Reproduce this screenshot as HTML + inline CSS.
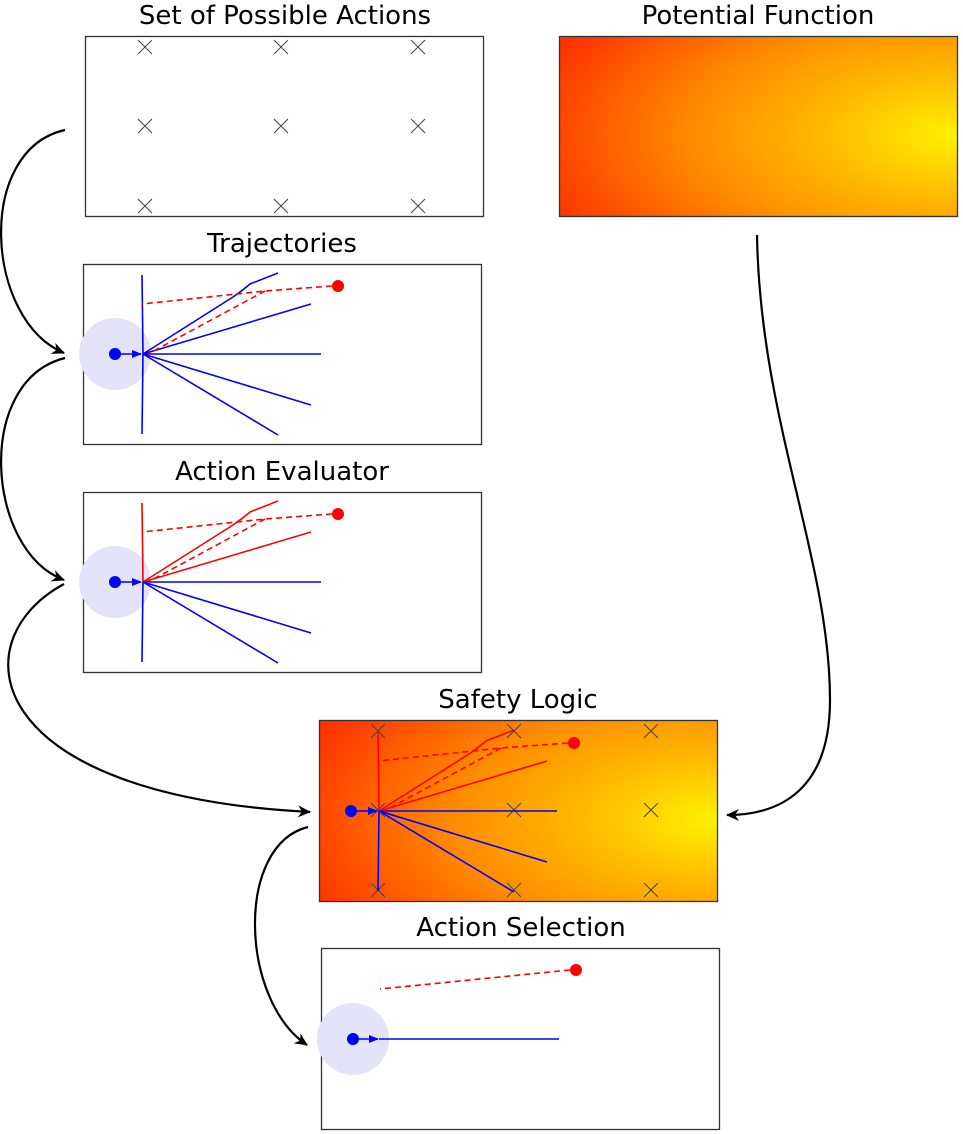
<!DOCTYPE html>
<html><head><meta charset="utf-8"><style>
html,body{margin:0;padding:0;background:#fff;}
svg{display:block;}
text{font-family:"DejaVu Sans","Liberation Sans",sans-serif;font-size:26px;fill:#000;text-anchor:middle;}
</style></head><body>
<svg width="963" height="1134" viewBox="0 0 963 1134" xmlns="http://www.w3.org/2000/svg">
<defs>
<radialGradient id="pot2" cx="1" cy="0.55" r="1.1" fx="1" fy="0.55">
<stop offset="0" stop-color="#fff200"/><stop offset="0.3" stop-color="#ffbb00"/><stop offset="0.6" stop-color="#ff8c00"/><stop offset="1" stop-color="#ff3300"/>
</radialGradient>
<marker id="ah" markerWidth="14" markerHeight="12" refX="12" refY="6" orient="auto" markerUnits="userSpaceOnUse">
<path d="M0,0 L13,6 L0,12 L4,6 Z" fill="#000"/>
</marker>
<marker id="sb" markerWidth="10" markerHeight="8" refX="9" refY="4" orient="auto" markerUnits="userSpaceOnUse">
<path d="M0,0 L10,4 L0,8 Z" fill="#00f"/>
</marker>
<marker id="sr" markerWidth="10" markerHeight="8" refX="9" refY="4" orient="auto" markerUnits="userSpaceOnUse">
<path d="M0,0 L10,4 L0,8 Z" fill="#f00"/>
</marker>
<g id="cross"><path d="M-7,-7 L7,7 M7,-7 L-7,7" stroke="#444" stroke-width="1"/></g>
<g id="crosses">
<use href="#cross" x="0" y="0"/><use href="#cross" x="136" y="0"/><use href="#cross" x="273" y="0"/>
<use href="#cross" x="0" y="79"/><use href="#cross" x="136" y="79"/><use href="#cross" x="273" y="79"/>
<use href="#cross" x="0" y="159"/><use href="#cross" x="136" y="159"/><use href="#cross" x="273" y="159"/>
</g>
</defs>

<text x="285" y="24">Set of Possible Actions</text>
<text x="758" y="24">Potential Function</text>
<text x="282" y="252">Trajectories</text>
<text x="282" y="480">Action Evaluator</text>
<text x="518" y="708">Safety Logic</text>
<text x="521" y="936">Action Selection</text>

<rect x="85.5" y="36.5" width="398" height="180" fill="#fff" stroke="#333" stroke-width="1.3"/>
<use href="#crosses" x="145" y="47"/>

<rect x="559.5" y="36.5" width="398" height="180" fill="url(#pot2)" stroke="#333" stroke-width="1.3"/>

<rect x="83.5" y="264.5" width="398" height="180" fill="#fff" stroke="#333" stroke-width="1.3"/>
<g transform="translate(115,354)" fill="none" stroke-width="1.6">
<circle cx="0" cy="0" r="36" fill="#e3e3fa" stroke="none"/>
<path d="M27,-79 L28,0 L27,80" stroke="#00f"/>
<path d="M28,0 L118,-57 Q128,-64 135,-70 L163,-81" stroke="#00f"/>
<path d="M28,0 L196,-50" stroke="#00f"/>
<path d="M28,0 L206,0" stroke="#00f"/>
<path d="M28,0 L196,51" stroke="#00f"/>
<path d="M28,0 L163,81" stroke="#00f"/>
<path d="M5,0 L26,0" stroke="#00f" marker-end="url(#sb)"/>
<circle cx="0" cy="0" r="6" fill="#00f" stroke="none"/>
<path d="M217,-68 L150,-63 L27,-50" stroke="#f00" stroke-dasharray="6,4" marker-start="url(#sr)"/>
<path d="M150,-63 L33,0" stroke="#f00" stroke-dasharray="6,4"/>
<circle cx="223" cy="-68" r="6" fill="#f00" stroke="none"/>
</g>

<rect x="83.5" y="492.5" width="398" height="180" fill="#fff" stroke="#333" stroke-width="1.3"/>
<g transform="translate(115,582)" fill="none" stroke-width="1.6">
<circle cx="0" cy="0" r="36" fill="#e3e3fa" stroke="none"/>
<path d="M27,-79 L28,0" stroke="#f00"/>
<path d="M28,0 L27,80" stroke="#00f"/>
<path d="M28,0 L118,-57 Q128,-64 135,-70 L163,-81" stroke="#f00"/>
<path d="M28,0 L196,-50" stroke="#f00"/>
<path d="M28,0 L206,0" stroke="#00f"/>
<path d="M28,0 L196,51" stroke="#00f"/>
<path d="M28,0 L163,81" stroke="#00f"/>
<path d="M5,0 L26,0" stroke="#00f" marker-end="url(#sb)"/>
<circle cx="0" cy="0" r="6" fill="#00f" stroke="none"/>
<path d="M217,-68 L150,-63 L27,-50" stroke="#f00" stroke-dasharray="6,4" marker-start="url(#sr)"/>
<path d="M150,-63 L33,0" stroke="#f00" stroke-dasharray="6,4"/>
<circle cx="223" cy="-68" r="6" fill="#f00" stroke="none"/>
</g>

<rect x="319.5" y="720.5" width="398" height="181" fill="url(#pot2)" stroke="#333" stroke-width="1.3"/>
<use href="#crosses" x="378" y="731"/>
<g transform="translate(351,811)" fill="none" stroke-width="1.6">
<path d="M27,-79 L28,0" stroke="#f00"/>
<path d="M28,0 L27,80" stroke="#00f"/>
<path d="M28,0 L118,-57 Q128,-64 135,-70 L163,-81" stroke="#f00"/>
<path d="M28,0 L196,-50" stroke="#f00"/>
<path d="M28,0 L206,0" stroke="#00f"/>
<path d="M28,0 L196,51" stroke="#00f"/>
<path d="M28,0 L163,81" stroke="#00f"/>
<path d="M5,0 L26,0" stroke="#00f" marker-end="url(#sb)"/>
<circle cx="0" cy="0" r="6" fill="#00f" stroke="none"/>
<path d="M217,-68 L150,-63 L27,-50" stroke="#f00" stroke-dasharray="6,4" marker-start="url(#sr)"/>
<path d="M150,-63 L33,0" stroke="#f00" stroke-dasharray="6,4"/>
<circle cx="223" cy="-68" r="6" fill="#f00" stroke="none"/>
</g>

<rect x="321.5" y="948.5" width="398" height="181" fill="#fff" stroke="#333" stroke-width="1.3"/>
<g transform="translate(353,1039)" fill="none" stroke-width="1.6">
<circle cx="0" cy="0" r="36" fill="#e3e3fa" stroke="none"/>
<path d="M26,0 L206,0" stroke="#00f"/>
<path d="M5,0 L25,0" stroke="#00f" marker-end="url(#sb)"/>
<circle cx="0" cy="0" r="6" fill="#00f" stroke="none"/>
<path d="M217,-69 L27,-50" stroke="#f00" stroke-dasharray="6,4" marker-start="url(#sr)"/>
<circle cx="223" cy="-69" r="6" fill="#f00" stroke="none"/>
</g>

<g fill="none" stroke="#000" stroke-width="2.2">
<path d="M65,130 C-25,150 -15,320 64,353" marker-end="url(#ah)"/>
<path d="M65,358 C-25,380 -15,550 64,580" marker-end="url(#ah)"/>
<path d="M64,584 C-40,640 -20,795 310,812" marker-end="url(#ah)"/>
<path d="M308,827 C235,845 240,1000 307,1045" marker-end="url(#ah)"/>
<path d="M757,235 C760,420 830,560 830,700 C830,790 780,815 727,815" marker-end="url(#ah)"/>
</g>
</svg>
</body></html>
